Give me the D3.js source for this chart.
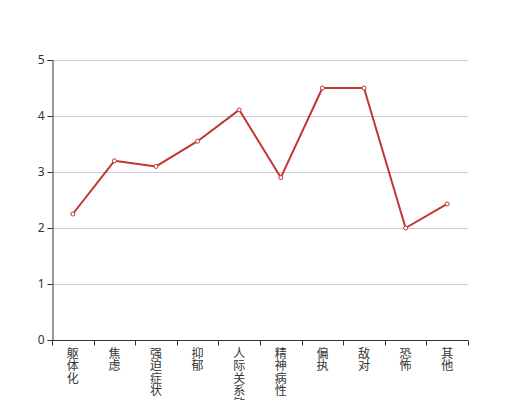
<!DOCTYPE html>
<html><head><meta charset="utf-8">
<script src="https://cdn.jsdelivr.net/npm/d3@7/dist/d3.min.js"></script>
<style>body{margin:0;background:#fff;} svg{display:block;font-family:"Noto Sans CJK SC","Noto Sans",sans-serif;}</style>
</head><body>
<svg id="c" width="520" height="400"></svg>
<script>
const categories = ["躯体化","焦虑","强迫症状","抑郁","人际关系敏感","精神病性","偏执","敌对","恐怖","其他"];
const values = [2.25, 3.2, 3.1, 3.55, 4.11, 2.9, 4.5, 4.5, 2.0, 2.43];
const yTicks = [0, 1, 2, 3, 4, 5];

const svg = d3.select("#c");
const L = 52, R = 468, T = 60, B = 340;
const x = d3.scaleBand().domain(categories).range([L, R]);
const y = d3.scaleLinear().domain([0, 5]).range([B, T]);

// grid
svg.append("g").selectAll("line").data(yTicks.filter(d => d > 0)).join("line")
  .attr("x1", L).attr("x2", R)
  .attr("y1", d => Math.round(y(d)) + 0.5).attr("y2", d => Math.round(y(d)) + 0.5)
  .attr("stroke", "#ccc").attr("stroke-width", 1);

// y axis
const ya = svg.append("g").attr("transform", `translate(${L + 0.5},0)`)
  .call(d3.axisLeft(y).tickValues(yTicks).tickSize(5).tickPadding(3).tickFormat(d3.format("d")));
ya.select(".domain").attr("stroke", "#333");
ya.selectAll(".tick line").attr("stroke", "#333");
ya.selectAll(".tick text").attr("fill", "#333").attr("font-size", 12)
  .attr("font-family", "'Noto Sans','Noto Sans CJK SC',sans-serif");

// x axis
const xg = svg.append("g").attr("transform", `translate(0,${B + 0.5})`);
xg.append("line").attr("x1", L).attr("x2", R + 0.5).attr("stroke", "#333");
const bounds = categories.map(c => x(c)).concat([R]);
xg.selectAll("line.t").data(bounds).join("line").attr("class", "t")
  .attr("x1", d => Math.round(d) + 0.5).attr("x2", d => Math.round(d) + 0.5)
  .attr("y1", 0).attr("y2", 5).attr("stroke", "#333");
const lab = xg.selectAll("text").data(categories).join("text")
  .attr("x", d => x(d) + x.bandwidth() / 2)
  .attr("font-size", 12).attr("fill", "#333").attr("text-anchor", "middle");
lab.each(function(d) {
  const t = d3.select(this);
  Array.from(d).forEach((ch, i) => {
    t.append("tspan").attr("x", x(d) + x.bandwidth() / 2).attr("y", 17 + i * 12.5).text(ch);
  });
});

// line
const line = d3.line().x((d, i) => x(categories[i]) + x.bandwidth() / 2).y(d => y(d));
svg.append("path").datum(values).attr("d", line)
  .attr("fill", "none").attr("stroke", "#c23531").attr("stroke-width", 2).attr("stroke-linejoin", "round");
svg.append("g").selectAll("circle").data(values).join("circle")
  .attr("cx", (d, i) => x(categories[i]) + x.bandwidth() / 2).attr("cy", d => y(d))
  .attr("r", 2).attr("fill", "#fff").attr("stroke", "#c23531").attr("stroke-width", 1);
</script>
</body></html>
